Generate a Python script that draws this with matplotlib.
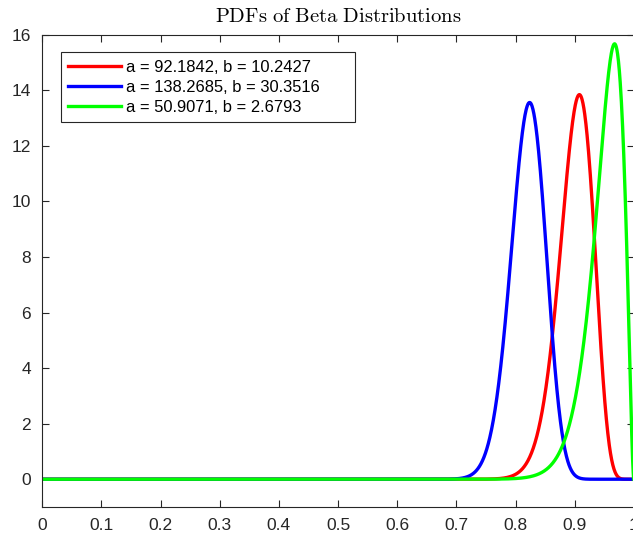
import math
import numpy as np
import matplotlib.pyplot as plt

# beta parameters for the three curves
a_vals = [92.1842, 138.2685, 50.9071]
b_vals = [10.2427, 30.3516, 2.6793]
colors = ['#ff0000', '#0000ff', '#00ff00']
xticks = [0, 0.1, 0.2, 0.3, 0.4, 0.5, 0.6, 0.7, 0.8, 0.9, 1]
yticks = [0, 2, 4, 6, 8, 10, 12, 14, 16]

plt.rcParams['font.family'] = ['Liberation Sans', 'DejaVu Sans']
plt.rcParams['mathtext.fontset'] = 'cm'


def beta_pdf(x, a, b):
    lognorm = math.lgamma(a + b) - math.lgamma(a) - math.lgamma(b)
    with np.errstate(divide='ignore'):
        y = np.exp(lognorm + (a - 1) * np.log(x) + (b - 1) * np.log1p(-x))
    return np.nan_to_num(y)


x = np.linspace(0, 1, 2001)

fig = plt.figure(figsize=(6.33, 5.38), dpi=100)
ax = fig.add_axes([0.0668, 0.0576, 0.9345, 0.878])

for a, b, c in zip(a_vals, b_vals, colors):
    ax.plot(x, beta_pdf(x, a, b), color=c, lw=2.4,
            label=f'a = {a:.4f}, b = {b:.4f}')

ax.set_xlim(0, 1)
ax.set_ylim(-1, 16)
ax.set_xticks(xticks)
ax.set_xticklabels([f'{t:g}' for t in xticks])
ax.set_yticks(yticks)
ax.tick_params(direction='in', length=5, width=0.8, labelsize=12.5,
               top=True, right=True, colors='#262626', pad=8)
for s in ax.spines.values():
    s.set_color('#262626')
    s.set_linewidth(0.8)

ax.set_title(r'$\mathrm{PDFs\ of\ Beta\ Distributions}$', fontsize=14.8, pad=9)

leg = ax.legend(loc='upper left', bbox_to_anchor=(0.031, 0.55, 0.4976, 0.4125),
                mode='expand', borderaxespad=0, fontsize=11.9, fancybox=False,
                framealpha=1, handlelength=3.2, handletextpad=0.3,
                labelspacing=0.3, borderpad=0.45)
leg.get_frame().set_edgecolor('#262626')
leg.get_frame().set_linewidth(0.8)

fig.savefig('out.png', dpi=100)
